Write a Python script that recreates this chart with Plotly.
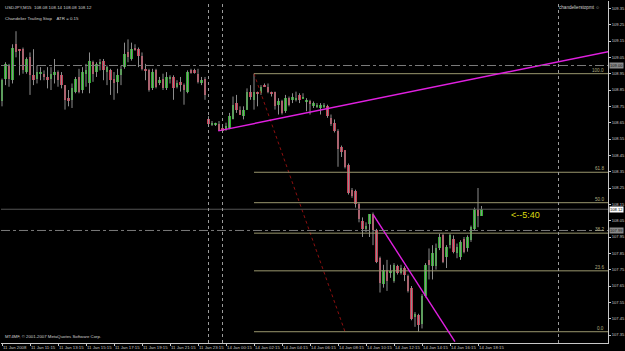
import plotly.graph_objects as go

# ---------------- data (USDJPY M15) ----------------
opens = [108.78,108.92,109.00,108.91,109.13,109.10,109.10,108.96,109.05,108.94,
         108.92,108.95,108.95,108.93,108.92,108.94,108.96,108.94,108.88,108.80,
         108.79,108.84,108.93,108.85,108.95,108.89,109.02,108.96,109.01,109.03,
         108.96,108.97,108.92,108.90,108.94,108.99,109.08,109.04,109.11,109.10,
         109.06,108.98,108.97,108.86,108.97,108.89,108.92,108.86,108.92,108.93,
         108.87,108.90,108.88,108.84,108.97,108.97,108.95,108.89,108.92,108.67,
         108.64,108.64,108.64,108.62,108.61,108.62,108.67,108.77,108.73,108.69,
         108.73,108.84,108.79,108.84,108.83,108.88,108.87,108.84,108.84,108.76,
         108.78,108.72,108.80,108.79,108.79,108.82,108.80,108.78,108.78,108.75,
         108.75,108.74,108.75,108.75,108.68,108.65,108.60,108.50,108.48,108.39,
         108.24,108.23,108.15,108.05,108.00,108.03,108.09,107.99,107.82,107.66,
         107.75,107.73,107.68,107.77,107.73,107.76,107.71,107.64,107.46,107.47,
         107.42,107.59,107.81,107.77,107.77,107.88,107.96,107.83,107.90,107.94,
         107.85,107.83,107.94,107.88,107.93,108.00,108.12,108.08]
highs = [108.92,109.02,109.01,109.13,109.21,109.10,109.11,109.05,109.08,109.10,
         109.00,108.99,108.97,108.99,108.99,109.04,108.97,108.96,108.88,108.85,
         108.89,108.93,108.98,108.99,109.01,109.08,109.03,109.02,109.04,109.04,
         109.00,108.98,108.96,108.98,109.00,109.14,109.16,109.14,109.13,109.11,
         109.08,109.01,108.98,108.98,108.98,108.93,108.95,108.96,108.94,108.94,
         108.91,108.93,108.89,108.97,108.98,108.98,108.98,108.93,108.93,108.69,
         108.66,108.65,108.66,108.63,108.65,108.71,108.81,108.82,108.75,108.75,
         108.86,108.88,108.95,108.84,108.88,108.89,108.89,108.84,108.84,108.80,
         108.79,108.82,108.81,108.83,108.84,108.83,108.83,108.80,108.79,108.78,
         108.77,108.77,108.77,108.76,108.70,108.67,108.61,108.51,108.48,108.40,
         108.25,108.24,108.16,108.07,108.04,108.09,108.10,108.00,107.83,107.78,
         107.81,107.78,107.79,107.78,107.78,107.77,107.72,107.65,107.49,107.48,
         107.60,107.79,107.88,107.90,107.91,107.97,107.97,107.90,107.97,107.96,
         107.91,107.93,107.95,107.96,108.02,108.13,108.25,108.14]
lows = [108.75,108.88,108.87,108.89,109.05,108.94,108.95,108.95,108.82,108.88,
        108.89,108.91,108.91,108.86,108.85,108.89,108.87,108.86,108.73,108.75,
        108.74,108.83,108.83,108.83,108.87,108.83,108.90,108.93,108.97,108.91,
        108.88,108.82,108.79,108.83,108.88,108.98,109.02,109.03,109.09,108.99,
        108.97,108.91,108.84,108.85,108.86,108.88,108.85,108.85,108.89,108.79,
        108.86,108.84,108.76,108.83,108.95,108.95,108.89,108.88,108.79,108.63,
        108.63,108.63,108.60,108.59,108.60,108.61,108.67,108.71,108.70,108.67,
        108.73,108.79,108.73,108.75,108.82,108.87,108.83,108.81,108.73,108.70,
        108.70,108.71,108.75,108.77,108.78,108.77,108.80,108.72,108.70,108.74,
        108.74,108.70,108.74,108.68,108.63,108.59,108.38,108.44,108.37,108.21,
        108.19,108.13,108.04,107.95,107.98,107.95,107.90,107.79,107.61,107.64,
        107.62,107.70,107.67,107.72,107.72,107.68,107.61,107.44,107.40,107.37,
        107.39,107.58,107.69,107.69,107.75,107.87,107.79,107.76,107.88,107.85,
        107.82,107.81,107.85,107.86,107.92,107.99,108.01,108.08]
closes = [108.91,109.01,108.92,109.11,109.08,109.09,108.97,109.04,108.94,108.91,
          108.96,108.96,108.93,108.91,108.95,108.96,108.91,108.88,108.79,108.78,
          108.86,108.92,108.84,108.96,108.97,109.03,108.95,109.01,109.02,108.97,
          108.99,108.91,108.89,108.94,108.98,109.07,109.05,109.10,109.10,109.06,
          108.98,108.97,108.85,108.96,108.87,108.91,108.86,108.93,108.93,108.86,
          108.89,108.88,108.85,108.96,108.96,108.96,108.90,108.91,108.82,108.64,
          108.65,108.65,108.60,108.60,108.63,108.69,108.76,108.73,108.70,108.73,
          108.84,108.81,108.84,108.83,108.87,108.87,108.84,108.83,108.75,108.78,
          108.71,108.80,108.76,108.81,108.80,108.79,108.81,108.79,108.77,108.77,
          108.76,108.76,108.76,108.69,108.64,108.60,108.49,108.47,108.38,108.22,
          108.20,108.15,108.06,108.00,108.02,108.09,107.99,107.80,107.67,107.75,
          107.68,107.74,107.78,107.73,107.76,107.72,107.62,107.45,107.48,107.41,
          107.59,107.78,107.78,107.85,107.88,107.95,107.80,107.89,107.96,107.86,
          107.89,107.92,107.86,107.95,108.01,108.12,108.08,108.12]

tick_bars = list(range(0, 137, 8))
tick_labels = ["11 Jan 2008", "11 Jan 11:15", "11 Jan 13:15", "11 Jan 15:15",
               "11 Jan 17:15", "11 Jan 19:15", "11 Jan 21:15", "11 Jan 23:15",
               "14 Jan 00:15", "14 Jan 02:15", "14 Jan 04:15", "14 Jan 06:15",
               "14 Jan 08:15", "14 Jan 10:15", "14 Jan 12:15", "14 Jan 14:15",
               "14 Jan 16:15", "14 Jan 18:15"]
price_ticks = [round(107.35 + 0.1 * k, 2) for k in range(21)]

fib_high_bar, fib_high = 72, 108.95
fib_low_bar, fib_low = 98, 107.37
fib_levels = [0.0, 23.6, 38.2, 50.0, 61.8, 100.0]

trend_up_x, trend_up_y = [61.8, 173.2], [108.60, 109.085]
trend_dn_x, trend_dn_y = [106.1, 129.4], [108.085, 107.31]

vlines_bars = [59, 63, 159]
hline_109 = 109.00
hline_bid = 108.12
hline_low = 107.99

# ---------------- figure ----------------
n = len(opens)
xs = list(range(n))
GREEN, RED, WICK = "#2fae2f", "#c73a52", "#8c8c8c"
AXC = "#c8c8c8"
FONT = "Liberation Sans"
TXT = "#d0d0d0"

fig = go.Figure()

# wicks
wx, wy = [], []
for i in xs:
    wx += [i, i, None]
    wy += [highs[i], lows[i], None]
fig.add_trace(go.Scatter(x=wx, y=wy, mode="lines", line=dict(color=WICK, width=1),
                         hoverinfo="skip", showlegend=False))
# bodies
base = [min(o, c) for o, c in zip(opens, closes)]
hgt = [max(abs(c - o), 0.004) for o, c in zip(opens, closes)]
cols = [GREEN if c >= o else RED for o, c in zip(opens, closes)]
fig.add_trace(go.Bar(x=xs, y=hgt, base=base, width=0.62, marker=dict(color=cols, line=dict(width=0)),
                     showlegend=False))

# fibonacci
fig.add_trace(go.Scatter(x=[fib_high_bar, fib_low_bar], y=[fib_high, fib_low], mode="lines",
                         line=dict(color="#8b1010", width=1, dash="dot"), showlegend=False))
for lv in fib_levels:
    p = fib_low + lv / 100 * (fib_high - fib_low)
    fig.add_trace(go.Scatter(x=[fib_high_bar, 175], y=[p, p], mode="lines",
                             line=dict(color="#9a976e", width=1), showlegend=False))
    fig.add_annotation(x=172.7, y=p, xref="x", yref="y", text=f"{lv:.1f}", showarrow=False,
                       xanchor="right", yanchor="bottom", yshift=-1,
                       font=dict(family=FONT, size=4.6, color="#b0ad80"))

# horizontal lines
for p, dash, col in [(hline_109, "dashdot", "#7a7a7a"), (hline_bid, "solid", "#555555"),
                     (hline_low, "dashdot", "#7a7a7a")]:
    fig.add_hline(y=p, line=dict(color=col, width=1, dash=dash))
# vertical lines
for b in vlines_bars:
    fig.add_vline(x=b, line=dict(color="#9a9a9a", width=1, dash="dot"))

# trend lines
fig.add_trace(go.Scatter(x=trend_up_x, y=trend_up_y, mode="lines",
                         line=dict(color="#e020e0", width=1.4), showlegend=False))
fig.add_trace(go.Scatter(x=trend_dn_x, y=trend_dn_y, mode="lines",
                         line=dict(color="#e020e0", width=1.4), showlegend=False))

# texts
fig.add_annotation(x=0.004, y=0.994, xref="paper", yref="paper", xanchor="left", yanchor="top",
                   text="USDJPY,M15  108.08 108.14 108.08 108.12", showarrow=False,
                   font=dict(family=FONT, size=4.4, color=TXT))
fig.add_annotation(x=0.004, y=0.962, xref="paper", yref="paper", xanchor="left", yanchor="top",
                   text="Chandelier Trailing Stop    ATR = 0.15", showarrow=False,
                   font=dict(family=FONT, size=4.4, color=TXT))
fig.add_annotation(x=0.99, y=0.994, xref="paper", yref="paper", xanchor="right", yanchor="top",
                   text="chandelierstopmt ☺", showarrow=False,
                   font=dict(family=FONT, size=4.6, color=TXT))
fig.add_annotation(x=0.004, y=0.006, xref="paper", yref="paper", xanchor="left", yanchor="bottom",
                   text="MT4MF, © 2001-2007 MetaQuotes Software Corp.", showarrow=False,
                   font=dict(family=FONT, size=4.3, color=TXT))
fig.add_annotation(x=144.8, y=108.085, xref="x", yref="y", xanchor="left", yanchor="middle",
                   text="<--5:40", showarrow=False, font=dict(family=FONT, size=9, color="#dcdc10"))

# price boxes on the axis
for p, bg, fc in [(hline_109, "#8a8a8a", "#101010"), (hline_bid, "#ffffff", "#000000"),
                  (hline_low, "#8a8a8a", "#101010")]:
    fig.add_annotation(x=1, y=p, xref="paper", yref="y", xanchor="left", yanchor="middle",
                       xshift=1, text=f"{p:.2f}", showarrow=False, bgcolor=bg, borderpad=0,
                       font=dict(family=FONT, size=4.1, color=fc))

fig.update_layout(
    width=625, height=351, margin=dict(l=1, r=17, t=1, b=8, autoexpand=False),
    paper_bgcolor="#000000", plot_bgcolor="#000000", bargap=0,
    xaxis=dict(range=[-0.286, 173.14], showgrid=False, zeroline=False, showline=True,
               linecolor=AXC, linewidth=1, tickmode="array", tickvals=tick_bars,
               ticktext=tick_labels, ticks="outside", ticklen=2, tickcolor=AXC,
               ticklabelposition="outside right", tickangle=0, automargin=False,
               ticklabelstandoff=0,
               tickfont=dict(family=FONT, size=4.3, color=AXC)),
    yaxis=dict(range=[107.301, 109.395], side="right", showgrid=False, zeroline=False,
               showline=True, linecolor=AXC, linewidth=1, tickmode="array",
               tickvals=price_ticks, ticktext=[f"{v:.2f}" for v in price_ticks],
               ticks="outside", ticklen=2, tickcolor=AXC, automargin=False,
               ticklabelstandoff=0,
               tickfont=dict(family=FONT, size=4.1, color=AXC)),
)

fig.write_html("out.html")
